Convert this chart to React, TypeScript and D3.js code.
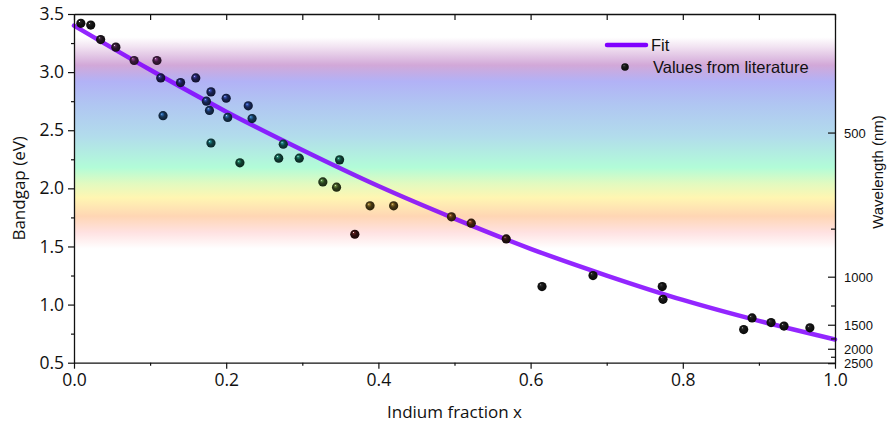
import { useRef, useEffect } from 'react';
import * as d3 from 'd3';

// literature values (In fraction x, bandgap eV)
const indiumFraction = [
  0.009, 0.022, 0.035, 0.055, 0.079, 0.109, 0.114, 0.117, 0.140, 0.160,
  0.180, 0.174, 0.178, 0.180, 0.200, 0.202, 0.229, 0.234, 0.218, 0.275,
  0.269, 0.296, 0.349, 0.327, 0.345, 0.369, 0.389, 0.420, 0.496, 0.522,
  0.568, 0.615, 0.682, 0.773, 0.774, 0.880, 0.891, 0.916, 0.933, 0.967,
];
const bandgap = [
  3.42, 3.405, 3.28, 3.215, 3.10, 3.10, 2.95, 2.625, 2.91, 2.95,
  2.83, 2.75, 2.67, 2.39, 2.775, 2.61, 2.71, 2.60, 2.22, 2.38,
  2.26, 2.26, 2.245, 2.055, 2.01, 1.605, 1.85, 1.85, 1.755, 1.70,
  1.565, 1.155, 1.25, 1.155, 1.045, 0.785, 0.885, 0.845, 0.815, 0.80,
];

// fit curve
const fitX = [0, 0.1, 0.2, 0.3, 0.4, 0.5, 0.6, 0.7, 0.8, 0.9, 1.0];
const fitE = [3.40, 3.02, 2.66, 2.33, 2.02, 1.74, 1.48, 1.25, 1.04, 0.86, 0.70];

const xTicks = [0, 0.2, 0.4, 0.6, 0.8, 1.0];
const xMinor = [0.1, 0.3, 0.5, 0.7, 0.9];
const yTicks = [0.5, 1.0, 1.5, 2.0, 2.5, 3.0, 3.5];
const yMinor = [0.75, 1.25, 1.75, 2.25, 2.75, 3.25];
const wavelengthTicks = [500, 1000, 1500, 2000, 2500];
const wavelengthMinor = [750, 1250, 1750, 2250];

// spectrum band behind the data (energy in eV -> colour)
const bandStops: [number, string][] = [
  [3.30, '#ffffff'], [3.22, '#f2e4f2'], [3.06, '#d2a8d8'], [2.92, '#b2b2f6'],
  [2.72, '#b0c6f2'], [2.45, '#b2dcec'], [2.18, '#b2fcd8'], [2.04, '#e2fac0'],
  [1.92, '#fff6b2'], [1.76, '#ffd6b4'], [1.62, '#ffe2e2'], [1.48, '#ffffff'],
];

// ball tint by energy
const ballE = [3.35, 3.1, 2.95, 2.7, 2.55, 2.35, 2.2, 2.05, 1.9, 1.8, 1.7, 1.6, 1.5];
const ballC = ['#141414', '#3c1a3c', '#1c1c4e', '#182a58', '#143c50', '#0f4442', '#104030',
  '#2c4420', '#463e16', '#4a3412', '#42220f', '#2e0f0f', '#141414'];

export default function App() {
  const svgRef = useRef<SVGSVGElement>(null);

  useEffect(() => {
    const width = 889;
    const height = 428;
    const x = d3.scaleLinear().domain([0, 1]).range([74, 835]);
    const y = d3.scaleLinear().domain([0.5, 3.5]).range([362.7, 14]);
    const tint = d3.scaleLinear<string>().domain(ballE).range(ballC).clamp(true);

    const svg = d3.select(svgRef.current)
      .attr('width', width)
      .attr('height', height);
    svg.selectAll('*').remove();

    const defs = svg.append('defs');
    const band = defs.append('linearGradient')
      .attr('id', 'band')
      .attr('gradientUnits', 'userSpaceOnUse')
      .attr('x1', 0).attr('x2', 0)
      .attr('y1', y(3.5)).attr('y2', y(0.5));
    bandStops.forEach(([e, c]) => {
      band.append('stop').attr('offset', (3.5 - e) / 3).attr('stop-color', c);
    });

    const ball = (id: string, c: string) => {
      const g = defs.append('radialGradient')
        .attr('id', id)
        .attr('cx', '50%').attr('cy', '50%').attr('r', '55%')
        .attr('fx', '35%').attr('fy', '30%');
      const col = d3.color(c)!;
      g.append('stop').attr('offset', '0%').attr('stop-color', '#ffffff');
      g.append('stop').attr('offset', '14%').attr('stop-color', col.brighter(2.2).formatHex());
      g.append('stop').attr('offset', '45%').attr('stop-color', c);
      g.append('stop').attr('offset', '100%').attr('stop-color', col.darker(2).formatHex());
    };

    // background spectrum
    svg.append('rect')
      .attr('x', x(0)).attr('y', y(3.5))
      .attr('width', x(1) - x(0)).attr('height', y(0.5) - y(3.5))
      .attr('fill', 'url(#band)');

    // fit line
    const line = d3.line<number>()
      .x((d, i) => x(fitX[i]))
      .y(d => y(d))
      .curve(d3.curveCatmullRom);
    svg.append('path')
      .attr('d', line(fitE))
      .attr('fill', 'none')
      .attr('stroke', '#8000ff')
      .attr('stroke-opacity', 0.85)
      .attr('stroke-width', 4.5)
      .attr('stroke-linecap', 'round');

    // points
    indiumFraction.forEach((v, i) => {
      ball(`ball-${i}`, tint(bandgap[i]));
      svg.append('circle')
        .attr('cx', x(v)).attr('cy', y(bandgap[i]))
        .attr('r', 4.6)
        .attr('fill', `url(#ball-${i})`);
    });

    const axisFont = "'Open Sans', sans-serif";
    const arial = "'Liberation Sans', Arial, sans-serif";

    // bottom axis
    const bottom = svg.append('g')
      .attr('transform', `translate(0, ${y(0.5)})`)
      .call(d3.axisBottom(x).tickValues(xTicks).tickSize(6).tickSizeOuter(0).tickPadding(5).tickFormat(d3.format('.1f')));
    bottom.selectAll('text').attr('font-family', axisFont).attr('font-size', 17.5).attr('fill', '#111');
    svg.append('g')
      .attr('transform', `translate(0, ${y(0.5)})`)
      .call(d3.axisBottom(x).tickValues(xMinor).tickSize(3).tickFormat(() => ''))
      .select('.domain').remove();

    // top axis
    svg.append('g')
      .attr('transform', `translate(0, ${y(3.5)})`)
      .call(d3.axisBottom(x).tickValues([...xTicks, ...xMinor]).tickSize(6).tickSizeOuter(0).tickFormat(() => ''));

    // left axis
    const left = svg.append('g')
      .attr('transform', `translate(${x(0)}, 0)`)
      .call(d3.axisLeft(y).tickValues(yTicks).tickSize(6).tickSizeOuter(0).tickPadding(4).tickFormat(d3.format('.1f')));
    left.selectAll('text').attr('font-family', axisFont).attr('font-size', 17.5).attr('fill', '#111');
    svg.append('g')
      .attr('transform', `translate(${x(0)}, 0)`)
      .call(d3.axisLeft(y).tickValues(yMinor).tickSize(3).tickFormat(() => ''))
      .select('.domain').remove();

    // right axis (wavelength, E = 1240 / lambda)
    const right = svg.append('g')
      .attr('transform', `translate(${x(1)}, 0)`)
      .call(d3.axisLeft(y).tickValues(wavelengthTicks.map(w => 1240 / w)).tickSize(7).tickSizeOuter(0).tickFormat(() => ''));
    right.selectAll('.tick').append('text')
      .attr('x', 9).attr('dy', '0.35em')
      .attr('text-anchor', 'start')
      .attr('fill', '#111')
      .attr('font-family', arial).attr('font-size', 13)
      .text((d, i) => String(wavelengthTicks[i]));
    svg.append('g')
      .attr('transform', `translate(${x(1)}, 0)`)
      .call(d3.axisLeft(y).tickValues(wavelengthMinor.map(w => 1240 / w)).tickSize(4).tickFormat(() => ''))
      .select('.domain').remove();

    svg.selectAll('.domain').attr('stroke', '#111').attr('stroke-width', 1.3);
    svg.selectAll('.tick line').attr('stroke', '#111').attr('stroke-width', 1.2);

    // titles
    svg.append('text')
      .attr('x', (x(0) + x(1)) / 2).attr('y', 418)
      .attr('text-anchor', 'middle')
      .attr('font-family', axisFont).attr('font-size', 17)
      .attr('fill', '#111')
      .text('Indium fraction x');
    svg.append('text')
      .attr('transform', `translate(25, ${(y(0.5) + y(3.5)) / 2}) rotate(-90)`)
      .attr('text-anchor', 'middle')
      .attr('font-family', axisFont).attr('font-size', 17)
      .attr('fill', '#111')
      .text('Bandgap (eV)');
    svg.append('text')
      .attr('transform', `translate(878, 172) rotate(-90)`)
      .attr('text-anchor', 'middle')
      .attr('dy', '0.35em')
      .attr('font-family', arial).attr('font-size', 15)
      .attr('fill', '#111')
      .text('Wavelength (nm)');

    // legend
    const legend = svg.append('g');
    legend.append('line')
      .attr('x1', 607).attr('x2', 646).attr('y1', 45).attr('y2', 45)
      .attr('stroke', '#8000ff').attr('stroke-width', 4.5).attr('stroke-linecap', 'round');
    legend.append('text')
      .attr('x', 651).attr('y', 51)
      .attr('font-family', arial).attr('font-size', 16.5).attr('fill', '#111')
      .text('Fit');
    ball('ball-legend', '#141414');
    legend.append('circle')
      .attr('cx', 625).attr('cy', 67).attr('r', 3.8)
      .attr('fill', 'url(#ball-legend)');
    legend.append('text')
      .attr('x', 653).attr('y', 73)
      .attr('font-family', arial).attr('font-size', 16.5).attr('fill', '#111')
      .text('Values from literature');
  }, []);

  return (
    <svg ref={svgRef} style={{ position: 'absolute', left: 0, top: 0, background: '#fff' }} />
  );
}
